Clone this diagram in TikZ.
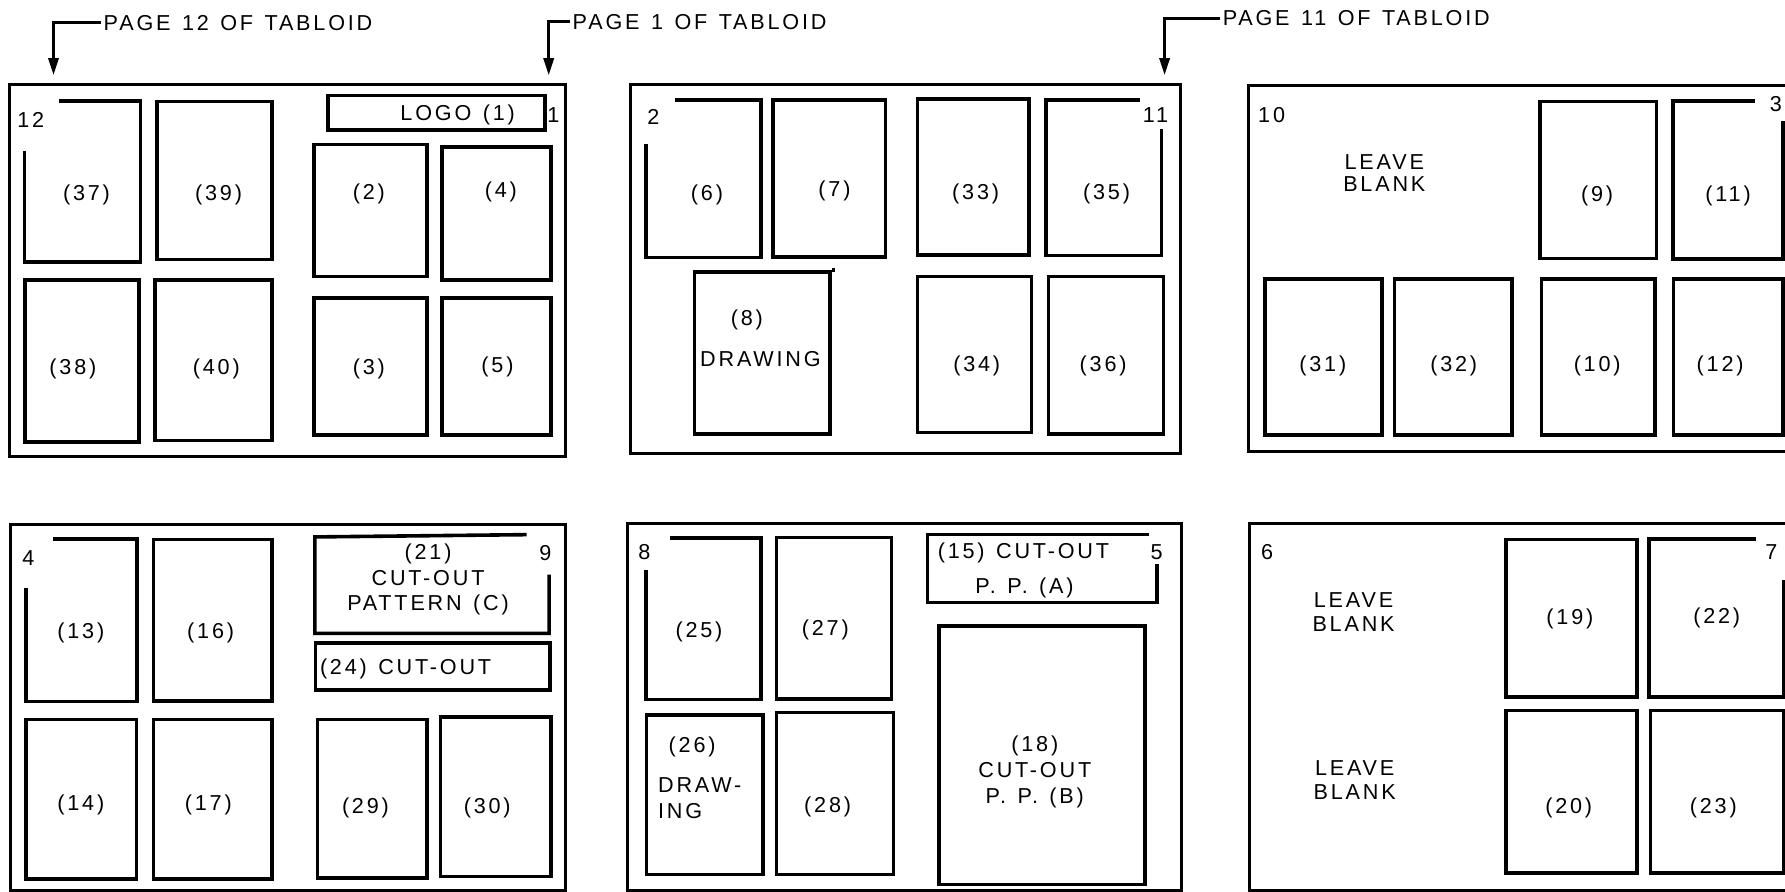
\documentclass[tikz,border=0pt]{standalone}
\usepackage{fontspec}
\setmainfont{Liberation Sans}[LetterSpace=13,WordSpace=1.3]
\usetikzlibrary{calc,fit,arrows.meta}
\begin{document}
\begin{tikzpicture}[x=0.2mm,y=-0.2mm,
  frame/.style={draw,line width=1.5pt,inner sep=0pt},
  box/.style={draw,line width=1.8pt,inner sep=0pt},
  hole/.style={inner sep=0pt},
  brk/.style={line width=1.8pt},
  lbl/.style={font=\fontsize{10.8}{11.5}\selectfont,inner sep=1pt,align=center},
  arr/.style={line width=1.4pt,-{Triangle[length=3mm,width=1.8mm]}}
]
\useasboundingbox (0,0) rectangle (1568,783);
\clip (0,0) rectangle (1568,783);

% ---------- top labels with arrows ----------
\node[lbl,anchor=west] (pg12) at (89,20) {PAGE 12 OF TABLOID};
\coordinate (tip12) at (47,66);
\draw[arr] (pg12.west) -| (tip12);
\node[lbl,anchor=west] (pg1) at (501,19) {PAGE 1 OF TABLOID};
\coordinate (tip1) at (482,66);
\draw[arr] (pg1.west) -| (tip1);
\node[lbl,anchor=west] (pg11) at (1072,16) {PAGE 11 OF TABLOID};
\coordinate (tip11) at (1023,66);
\draw[arr] (pg11.west) -| (tip11);

% ================= Panel A (pages 12 / 1) =================
\node[frame,fit={(8,74)(497,401)}] (fA) {};
\node[lbl] (n12) at (27,105) {12};
\node[lbl] (n1) at (486,101) {1};
\node[hole,fit={(22,89)(123,230)}] (b37) {};
\draw[brk] ($(b37.north west)+(30,0)$) -- (b37.north east) -- (b37.south east) -- (b37.south west) -- ($(b37.north west)+(0,44)$);
\node[lbl] (t37) at (76,171) {(37)};
\node[box,fit={(138,89)(239,228)}] (b39) {};
\node[lbl] (t39) at (192,171) {(39)};
\node[box,fit={(288,84)(479,114)}] (logo) {};
\node[lbl] (tlogo) at (402,101) {LOGO (1)};
\node[box,fit={(276,127)(375,243)}] (b2) {};
\node[lbl] (t2) at (324,170) {(2)};
\node[box,fit={(388,129)(484,246)}] (b4) {};
\node[lbl] (t4) at (440,169) {(4)};
\node[box,fit={(22,246)(122,388)}] (b38) {};
\node[lbl] (t38) at (64,324) {(38)};
\node[box,fit={(136,246)(239,387)}] (b40) {};
\node[lbl] (t40) at (190,324) {(40)};
\node[box,fit={(276,262)(375,382)}] (b3) {};
\node[lbl] (t3) at (324,324) {(3)};
\node[box,fit={(388,262)(484,382)}] (b5) {};
\node[lbl] (t5) at (437,322) {(5)};

% ================= Panel B (pages 2 / 11) =================
\node[frame,fit={(554,74)(1037,398)}] (fB) {};
\node[lbl] (n2) at (574,103) {2};
\node[lbl] (n11) at (1015,101) {11};
\node[hole,fit={(568,88)(668,226)}] (b6) {};
\draw[brk] ($(b6.north west)+(25,0)$) -- (b6.north east) -- (b6.south east) -- (b6.south west) -- ($(b6.north west)+(0,39)$);
\node[lbl] (t6) at (621,171) {(6)};
\node[box,fit={(679,88)(778,226)}] (b7) {};
\node[lbl] (t7) at (733,168) {(7)};
\node[box,fit={(806,87)(904,224)}] (b33) {};
\node[lbl] (t33) at (857,170) {(33)};
\node[hole,fit={(919,88)(1020,224)}] (b35) {};
\draw[brk] ($(b35.north east)+(-19,0)$) -- (b35.north west) -- (b35.south west) -- (b35.south east) -- ($(b35.north east)+(0,26)$);
\node[lbl] (t35) at (972,170) {(35)};
\node[box,fit={(610,239)(729,381)}] (b8) {};
\draw[brk] (b8.north east) -- ($(b8.north east)+(3,0)$);
\node[lbl] (t8) at (656,281) {(8)};
\node[lbl] (t8b) at (668,315) {DRAWING};
\node[box,fit={(806,243)(906,380)}] (b34) {};
\node[lbl] (t34) at (858,321) {(34)};
\node[box,fit={(921,243)(1022,381)}] (b36) {};
\node[lbl] (t36) at (969,321) {(36)};

% ================= Panel C (pages 10 / 3) =================
\node[frame,fit={(1097,75)(1600,397)}] (fC) {};
\node[lbl] (n10) at (1117,101) {10};
\node[lbl] (n3) at (1560,91) {3};
\node[lbl,font=\fontsize{10.8}{11}\selectfont] (lb1) at (1216,152) {LEAVE\\BLANK};
\node[box,fit={(1353,89)(1455,227)}] (b9) {};
\node[lbl] (t9) at (1403,172) {(9)};
\node[hole,fit={(1470,89)(1566,227)}] (b11) {};
\draw[brk] ($(b11.north east)+(-25,0)$) -- (b11.north west) -- (b11.south west) -- (b11.south east) -- ($(b11.north east)+(0,18)$);
\node[lbl] (t11) at (1518,172) {(11)};
\node[box,fit={(1111,245)(1214,382)}] (b31) {};
\node[lbl] (t31) at (1162,321) {(31)};
\node[box,fit={(1225,245)(1328,382)}] (b32) {};
\node[lbl] (t32) at (1277,321) {(32)};
\node[box,fit={(1354,245)(1454,382)}] (b10) {};
\node[lbl] (t10) at (1403,321) {(10)};
\node[box,fit={(1470,245)(1566,382)}] (b12) {};
\node[lbl] (t12) at (1511,321) {(12)};

% ================= Panel D (pages 4 / 9) =================
\node[frame,fit={(9,461)(497,782)}] (fD) {};
\node[lbl] (n4) at (25,490) {4};
\node[lbl] (n9) at (479,486) {9};
\node[hole,fit={(23,474)(120,616)}] (b13) {};
\draw[brk] ($(b13.north west)+(24,0)$) -- (b13.north east) -- (b13.south east) -- (b13.south west) -- ($(b13.north west)+(0,43)$);
\node[lbl] (t13) at (71,556) {(13)};
\node[box,fit={(135,474)(239,616)}] (b16) {};
\node[lbl] (t16) at (185,556) {(16)};
\node[hole,fit={(277,472)(482,556)}] (b21) {};
\draw[brk] ($(b21.north west)+(186,-2)$) -- (b21.north west) -- (b21.south west) -- (b21.south east) -- ($(b21.north east)+(0,33)$);
\node[lbl,font=\fontsize{10.8}{12.6}\selectfont] (t21) at (376,509) {(21)\\CUT-OUT\\PATTERN (C)};
\node[box,fit={(277,565)(483,606)}] (b24) {};
\node[lbl,anchor=west] (t24) at (279,588) {(24) CUT-OUT};
\node[box,fit={(23,632)(120,772)}] (b14) {};
\node[lbl] (t14) at (71,707) {(14)};
\node[box,fit={(135,632)(239,772)}] (b17) {};
\node[lbl] (t17) at (183,707) {(17)};
\node[box,fit={(279,632)(375,771)}] (b29) {};
\node[lbl] (t29) at (321,710) {(29)};
\node[box,fit={(387,630)(484,770)}] (b30) {};
\node[lbl] (t30) at (428,710) {(30)};

% ================= Panel E (pages 8 / 5) =================
\node[frame,fit={(551,460)(1038,782)}] (fE) {};
\node[lbl] (n8) at (566,485) {8};
\node[lbl] (n5) at (1016,485) {5};
\node[hole,fit={(568,473)(668,614)}] (b25) {};
\draw[brk] ($(b25.north west)+(21,0)$) -- (b25.north east) -- (b25.south east) -- (b25.south west) -- ($(b25.north west)+(0,28)$);
\node[lbl] (t25) at (614,555) {(25)};
\node[box,fit={(682,472)(783,614)}] (b27) {};
\node[lbl] (t27) at (725,553) {(27)};
\node[hole,fit={(815,470)(1016,529)}] (b15) {};
\draw[brk] ($(b15.north west)+(195,0)$) -- (b15.north west) -- (b15.south west) -- (b15.south east) -- ($(b15.north east)+(0,26)$);
\node[lbl] (t15a) at (899,486) {(15) CUT-OUT};
\node[lbl] (t15b) at (900,516) {P. P. (A)};
\node[box,fit={(825,550)(1006,777)}] (b18) {};
\node[lbl,font=\fontsize{10.8}{13}\selectfont] (t18) at (909,678) {(18)\\CUT-OUT\\P. P. (B)};
\node[box,fit={(568,628)(670,768)}] (b26) {};
\node[lbl] (t26) at (608,656) {(26)};
\node[lbl,font=\fontsize{10.8}{13}\selectfont,align=left,anchor=west] (t26b) at (576,701) {DRAW-\\ING};
\node[box,fit={(682,626)(785,768)}] (b28) {};
\node[lbl] (t28) at (727,709) {(28)};

% ================= Panel F (pages 6 / 7) =================
\node[frame,fit={(1098,460)(1600,782)}] (fF) {};
\node[lbl] (n6) at (1113,485) {6};
\node[lbl] (n7) at (1556,485) {7};
\node[lbl,font=\fontsize{10.8}{12}\selectfont] (lb2) at (1189,538) {LEAVE\\BLANK};
\node[lbl,font=\fontsize{10.8}{12}\selectfont] (lb3) at (1190,685) {LEAVE\\BLANK};
\node[box,fit={(1323,474)(1438,612)}] (b19) {};
\node[lbl] (t19) at (1379,544) {(19)};
\node[hole,fit={(1449,474)(1567,612)}] (b22) {};
\draw[brk] ($(b22.north east)+(-25,0)$) -- (b22.north west) -- (b22.south west) -- (b22.south east) -- ($(b22.north east)+(0,36)$);
\node[lbl] (t22) at (1508,543) {(22)};
\node[box,fit={(1323,624)(1438,767)}] (b20) {};
\node[lbl] (t20) at (1378,710) {(20)};
\node[box,fit={(1450,624)(1567,767)}] (b23) {};
\node[lbl] (t23) at (1505,710) {(23)};
\end{tikzpicture}
\end{document}
